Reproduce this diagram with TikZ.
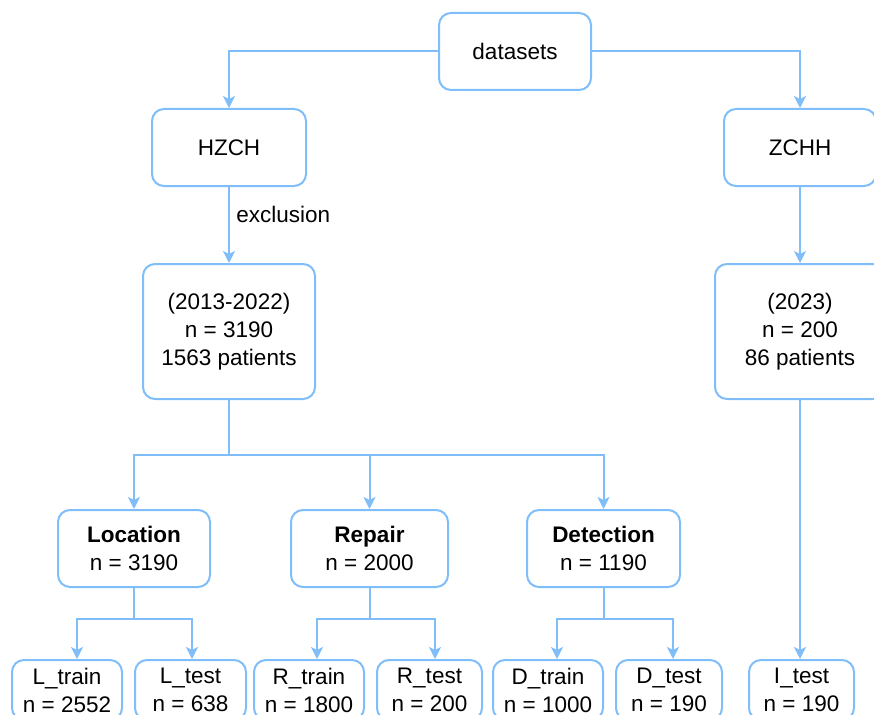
\documentclass[tikz,border=0pt]{standalone}
\usepackage{fontspec}
\setmainfont{Liberation Sans}
\usetikzlibrary{arrows.meta,calc}
\definecolor{lineblue}{RGB}{128,190,250}
\begin{document}
\begin{tikzpicture}[x=1pt,y=-1pt,
  box/.style={draw=lineblue,line width=2pt,rounded corners=12pt,fill=white,
    align=center,font=\fontsize{22.5}{28}\selectfont,inner sep=0pt},
  leaf/.style={box,minimum height=60pt},
  arr/.style={draw=lineblue,line width=2pt,-{Stealth[length=12pt,width=12pt,inset=3pt]}},
  ln/.style={draw=lineblue,line width=2pt}]
\useasboundingbox (0,0) rectangle (874,714);
\clip (0,0) rectangle (874,714);

% top level
\node[box,minimum width=152pt,minimum height=77pt] (ds) at (515,51.5) {datasets};
\node[box,minimum width=154pt,minimum height=77pt] (hz) at (229,147.5) {HZCH};
\node[box,minimum width=152pt,minimum height=77pt] (zc) at (800,147.5) {ZCHH};

% cohorts
\node[box,minimum width=172pt,minimum height=135pt] (hzy) at (229,331.5)
  {(2013-2022)\\n = 3190\\1563 patients};
\node[box,minimum width=170pt,minimum height=135pt] (zcy) at (800,331.5)
  {(2023)\\n = 200\\86 patients};

% tasks
\node[box,minimum width=152pt,minimum height=77pt] (loc) at (134,548.5)
  {\textbf{Location}\\n = 3190};
\node[box,minimum width=157pt,minimum height=77pt] (rep) at (369.5,548.5)
  {\textbf{Repair}\\n = 2000};
\node[box,minimum width=153pt,minimum height=77pt] (det) at (603.5,548.5)
  {\textbf{Detection}\\n = 1190};

% splits
\node[leaf,minimum width=110pt] (ltr) at (67,690) {L\_train\\n = 2552};
\node[leaf,minimum width=111pt] (lte) at (190.5,690) {L\_test\\n = 638};
\node[leaf,minimum width=110pt] (rtr) at (309,690) {R\_train\\n = 1800};
\node[leaf,minimum width=105pt] (rte) at (429.5,690) {R\_test\\n = 200};
\node[leaf,minimum width=110pt] (dtr) at (548,690) {D\_train\\n = 1000};
\node[leaf,minimum width=106pt] (dte) at (669,690) {D\_test\\n = 190};
\node[leaf,minimum width=105pt] (ite) at (801.5,690) {I\_test\\n = 190};

% connectors from the top
\draw[arr] (ds.west) -| (hz.north);
\draw[arr] (ds.east) -| (zc.north);
\draw[arr] (hz.south) -- node[pos=0.36,anchor=west,xshift=3pt,font=\fontsize{22.5}{28}\selectfont]{exclusion} (hzy.north);
\draw[arr] (zc.south) -- (zcy.north);
\draw[arr] (zcy.south) -- (ite.north -| zcy.south);

% cohort to tasks
\coordinate (hzb) at ($(hzy.south)+(0,55)$);
\draw[ln] (hzy.south) -- (hzb);
\draw[arr] (hzb) -| (loc.north);
\draw[arr] (hzb) -| (rep.north);
\draw[arr] (hzb) -| (det.north);

% tasks to splits
\coordinate (locb) at ($(loc.south)+(0,31)$);
\coordinate (repb) at ($(rep.south)+(0,31)$);
\coordinate (detb) at ($(det.south)+(0,31)$);
\draw[ln] (loc.south) -- (locb);
\draw[ln] (rep.south) -- (repb);
\draw[ln] (det.south) -- (detb);
\draw[arr] (locb) -| ($(ltr.north)+(10,0)$);
\draw[arr] (locb) -| ($(lte.north)+(1.5,0)$);
\draw[arr] (repb) -| ($(rtr.north)+(8,0)$);
\draw[arr] (repb) -| ($(rte.north)+(5.5,0)$);
\draw[arr] (detb) -| ($(dtr.north)+(9,0)$);
\draw[arr] (detb) -| ($(dte.north)+(4,0)$);
\end{tikzpicture}
\end{document}
